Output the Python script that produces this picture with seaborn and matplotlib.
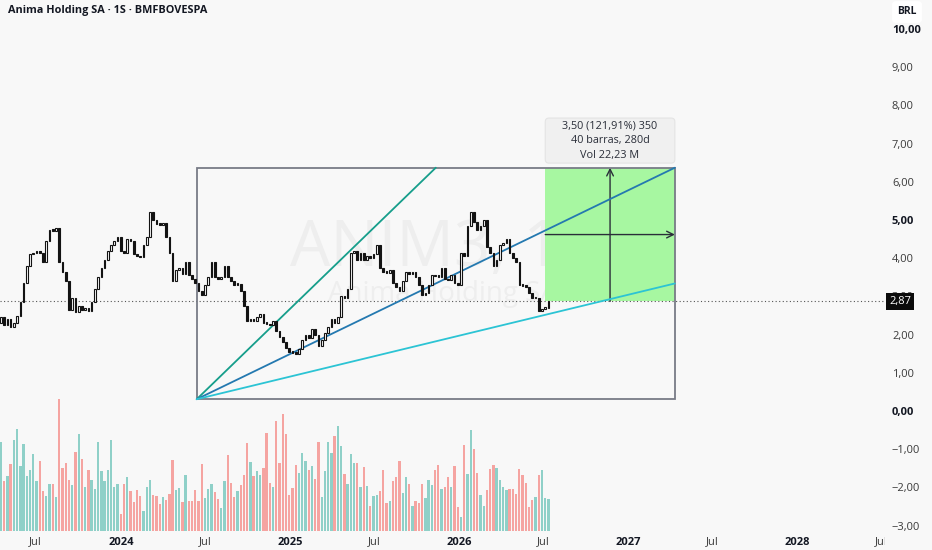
import numpy as np
import pandas as pd
import matplotlib
matplotlib.use('Agg')
import matplotlib.pyplot as plt
import matplotlib.dates as mdates
from matplotlib.patches import Rectangle, FancyBboxPatch
from matplotlib.transforms import Bbox, TransformedBbox, blended_transform_factory
import seaborn as sns

# Datos semanales (1S) de ANIM3
primera_semana = '2023-04-17'
apertura_inicial = 2.30

cierres = [
    2.45, 2.25, 2.40, 2.20, 2.30, 2.50, 2.85, 3.35, 3.80, 4.10,
    4.15, 4.20, 4.15, 3.90, 4.45, 4.75, 4.72, 4.78, 3.90, 3.65,
    3.40, 2.65, 2.95, 2.60, 2.75, 2.65, 2.70, 2.62, 2.85, 3.20,
    3.50, 3.75, 3.95, 4.20, 4.35, 4.45, 4.55, 4.20, 4.15, 4.50,
    4.45, 4.10, 4.05, 4.02, 4.35, 4.55, 5.20, 5.00, 4.90, 4.88,
    4.92, 4.55, 4.15, 3.40, 3.70, 3.75, 3.60, 3.90, 3.55, 3.45,
    3.35, 3.15, 3.05, 3.30, 3.50, 3.90, 3.50, 3.45, 3.50, 3.80,
    3.50, 3.40, 3.30, 3.32, 3.15, 2.75, 2.35, 2.40, 2.35, 2.45,
    2.55, 2.30, 2.28, 2.25, 2.35, 2.10, 1.95, 1.80, 1.65, 1.55,
    1.52, 1.50, 1.62, 1.85, 2.00, 1.90, 2.15, 2.00, 1.70, 1.85,
    2.05, 2.20, 2.40, 2.30, 2.45, 3.00, 2.95, 3.20, 4.15, 4.20,
    3.95, 4.15, 3.95, 4.05, 4.00, 4.10, 4.35, 3.75, 3.65, 3.62,
    3.70, 3.35, 3.25, 3.15, 3.40, 3.65, 3.60, 3.65, 3.50, 3.30,
    3.05, 3.10, 3.30, 3.55, 3.53, 3.52, 3.75, 3.45, 3.42, 3.55,
    3.35, 3.30, 4.15, 4.05, 4.85, 5.20, 4.95, 4.75, 4.85, 5.00,
    4.30, 4.15, 3.80, 3.95, 4.35, 4.40, 4.50, 4.15, 4.00, 3.90,
    3.30, 3.28, 3.25, 3.10, 2.95, 2.97, 2.62, 2.68, 2.70, 2.87,
]

# volumen semanal (millones)
volumenes = [
    30.3, 17.1, 18.6, 22.6, 30.8, 34.5, 22.0, 29.5, 18.6, 20.6,
    26.1, 17.1, 23.8, 13.7, 12.0, 15.8, 16.0, 11.4, 44.7, 21.5,
    23.1, 17.3, 15.5, 26.8, 32.9, 24.4, 14.9, 20.7, 17.4, 14.4,
    30.2, 20.3, 17.1, 20.7, 30.8, 14.8, 16.0, 5.8, 16.0, 18.4,
    13.6, 9.8, 13.9, 11.9, 6.8, 14.9, 17.3, 12.3, 11.9, 9.3,
    11.6, 10.5, 12.4, 24.0, 14.0, 14.5, 9.8, 19.0, 10.2, 10.2,
    14.0, 10.1, 22.8, 11.3, 14.2, 16.0, 13.1, 10.8, 7.8, 17.1,
    25.7, 16.3, 11.6, 13.7, 15.7, 19.1, 29.9, 23.5, 18.6, 20.3,
    18.9, 21.4, 33.3, 16.3, 15.0, 37.4, 23.1, 39.6, 33.0, 12.3,
    14.5, 22.3, 19.8, 26.6, 23.8, 20.7, 21.9, 17.6, 30.3, 11.4,
    20.2, 30.2, 26.6, 32.3, 35.7, 28.9, 19.4, 15.8, 26.1, 23.2,
    23.2, 15.0, 21.7, 15.1, 8.5, 11.9, 12.2, 13.7, 20.6, 9.6,
    10.2, 16.8, 18.3, 23.8, 12.8, 18.3, 15.9, 8.6, 10.3, 9.6,
    15.8, 11.3, 17.2, 15.6, 20.6, 22.5, 14.1, 14.8, 18.3, 14.9,
    22.0, 8.0, 4.7, 29.2, 19.3, 34.4, 27.7, 19.8, 12.1, 8.5,
    14.0, 21.0, 22.4, 21.5, 17.4, 14.9, 14.0, 14.1, 14.2, 12.7,
    21.0, 19.0, 16.4, 8.2, 10.6, 11.6, 18.9, 20.8, 11.2, 10.7,
]

ultimo_precio = 2.87

# caja de Gann
caja_inicio = '2024-06-13'
caja_fin = '2027-04-12'
caja_min = 0.31
caja_max = 6.37

# herramienta de medicion
medida_inicio = '2026-07-06'
medida_min = 2.87
medida_max = 6.37
medida_texto = ['3,50 (121,91%) 350', '40 barras, 280d', 'Vol 22,23 M']

titulo = 'Anima Holding SA · 1S · BMFBOVESPA'
marca_agua = 'ANIM3, 1S'
marca_agua_2 = 'Anima Holding SA'
niveles_precio = list(range(-3, 11))
niveles_negrita = [0, 5, 10]

# ---------------------------------------------------------------
fondo = '#f8f8f8'
sns.set_theme(style='white')
plt.rcParams['font.family'] = ['Open Sans', 'DejaVu Sans']

fechas = pd.date_range(primera_semana, periods=len(cierres), freq='7D')
aperturas = [apertura_inicial] + cierres[:-1]
df = pd.DataFrame({'fecha': fechas, 'apertura': aperturas,
                   'cierre': cierres, 'volumen': volumenes})
df['sube'] = df['cierre'] >= df['apertura']
df['base'] = df[['apertura', 'cierre']].min(axis=1)
df['cuerpo'] = (df['cierre'] - df['apertura']).abs().clip(lower=0.04)

fig = plt.figure(figsize=(9.32, 5.5), dpi=100)
fig.patch.set_facecolor(fondo)
ax = fig.add_axes([0, 19 / 550, 885 / 932, 531 / 550])
ax2 = ax.twinx()
ax.set_zorder(2)
ax2.set_zorder(1)
ax.patch.set_visible(False)
ax2.patch.set_visible(False)

# volumen
colores_vol = np.where(df['sube'], '#8fd0c8', '#f5a4a1')
ax2.bar(df['fecha'], df['volumen'], width=5, color=colores_vol, linewidth=0)
ax2.set_ylim(0, 180)
ax2.set_yticks([])

# marca de agua
ax.text(0.5, 0.531, marca_agua, transform=ax.transAxes, ha='center', va='center',
        fontsize=46, color='#eeeeee', zorder=0)
ax.text(0.5, 0.446, marca_agua_2, transform=ax.transAxes, ha='center', va='center',
        fontsize=20, color='#eeeeee', zorder=0)

# medicion (caja verde)
m0 = mdates.date2num(pd.Timestamp(medida_inicio))
c0 = mdates.date2num(pd.Timestamp(caja_inicio))
c1 = mdates.date2num(pd.Timestamp(caja_fin))
ax.add_patch(Rectangle((m0, medida_min), c1 - m0, medida_max - medida_min,
                       facecolor='#a7f7a1', edgecolor='none', zorder=1))
m_mid = (m0 + c1) / 2
p_mid = (medida_min + medida_max) / 2
ax.annotate('', xy=(m_mid, medida_max), xytext=(m_mid, medida_min),
            arrowprops=dict(arrowstyle='->', color='#2a2e39', lw=1, shrinkA=0, shrinkB=0), zorder=3)
ax.annotate('', xy=(c1, p_mid), xytext=(m0, p_mid),
            arrowprops=dict(arrowstyle='->', color='#2a2e39', lw=1, shrinkA=0, shrinkB=0), zorder=3)
ax.add_patch(FancyBboxPatch((m0, 6.49), c1 - m0, 1.18,
                            boxstyle='round,pad=0,rounding_size=8', mutation_aspect=0.0121,
                            facecolor='#f0f0f0', edgecolor='#e4e4e4', linewidth=0.8, zorder=6))
ax.text(m_mid, 7.08, '\n'.join(medida_texto), ha='center', va='center', fontsize=7.8,
        color='#2a2e39', linespacing=1.5, zorder=7)

# caja de Gann
ax.add_patch(Rectangle((c0, caja_min), c1 - c0, caja_max - caja_min,
                       facecolor='none', edgecolor='#787b86', linewidth=1.3, zorder=4))
abanico = pd.DataFrame({
    'fecha': pd.to_datetime(mdates.num2date([c0, (c0 + c1) / 2, c0, c1, c0, c1])).tz_localize(None),
    'precio': [caja_min, caja_max, caja_min, caja_max, caja_min, (caja_min + caja_max) / 2],
    'linea': ['2x1', '2x1', '1x1', '1x1', '1x2', '1x2'],
})
sns.lineplot(data=abanico, x='fecha', y='precio', hue='linea', estimator=None, sort=False,
             palette={'2x1': '#169e8b', '1x1': '#2479b0', '1x2': '#2cc4d4'},
             linewidth=1.3, legend=False, ax=ax, zorder=5)
ax.set_xlabel('')
ax.set_ylabel('')

# velas
sub = df[df['sube']]
baj = df[~df['sube']]
ax.bar(sub['fecha'], sub['cuerpo'], bottom=sub['base'], width=3.6,
       facecolor='white', edgecolor='#131313', linewidth=0.8, zorder=7)
ax.bar(baj['fecha'], baj['cuerpo'], bottom=baj['base'], width=3.6,
       facecolor='#131313', edgecolor='#131313', linewidth=0.8, zorder=7)

# linea de precio actual
ax.axhline(ultimo_precio, color='#555555', linewidth=0.8, linestyle=(0, (1, 2.2)), zorder=2)

# ejes
d0 = mdates.date2num(fechas[0])
ax.set_xlim(d0 - 2, d0 + 1910)
ax.set_ylim(-3.14, 10.76)
for s in ax.spines.values():
    s.set_visible(False)
for s in ax2.spines.values():
    s.set_visible(False)

ax.yaxis.tick_right()
ax.set_yticks(niveles_precio)
ax.set_yticklabels([f'{v:.2f}'.replace('.', ',').replace('-', '\u2212') for v in niveles_precio])
ax.tick_params(axis='y', length=0, pad=5, labelsize=8, labelcolor='#3a3a3a')
for v, lab in zip(niveles_precio, ax.get_yticklabels()):
    if v in niveles_negrita:
        lab.set_fontweight('bold')
        lab.set_color('#131722')

marcas = pd.date_range('2023-07-01', '2028-07-01', freq='6MS')
ax.set_xticks(mdates.date2num(marcas))
ax.set_xticklabels(['Jul' if m.month == 7 else str(m.year) for m in marcas])
ax.tick_params(axis='x', length=0, pad=4, labelsize=8, labelcolor='#3a3a3a')
clip = TransformedBbox(Bbox([[0, 0], [885 / 932, 1]]), fig.transFigure)
for m, lab in zip(marcas, ax.get_xticklabels()):
    if m.month == 1:
        lab.set_fontweight('bold')
        lab.set_color('#131722')
    lab.set_clip_box(clip)
    lab.set_clip_on(True)
ax.grid(False)
ax2.grid(False)

# etiqueta del ultimo precio
tr = blended_transform_factory(ax.transAxes, ax.transData)
ax.text(1.0 + 4 / 885, ultimo_precio, f'{ultimo_precio:.2f}'.replace('.', ','), transform=tr,
        ha='left', va='center', fontsize=8, color='white', clip_on=False, zorder=10,
        bbox=dict(boxstyle='square,pad=0.28', facecolor='#0b0b0b', edgecolor='none'))

# titulo y moneda
fig.text(8 / 932, 1 - 11 / 550, titulo, ha='left', va='center', fontsize=7.8,
         fontweight='bold', color='#131722')
fig.text(907 / 932, 1 - 12 / 550, 'BRL', ha='center', va='center', fontsize=7.5,
         fontweight='bold', color='#131722',
         bbox=dict(boxstyle='round,pad=0.5,rounding_size=0.3', facecolor='white',
                   edgecolor='none'), linespacing=1.0)
fig.text(907 / 932, 1 - 12 / 550, '      ', ha='center', va='center', fontsize=7.5, zorder=-1,
         bbox=dict(boxstyle='round,pad=0.5,rounding_size=0.3', facecolor='white', edgecolor='none'))

fig.savefig('out.png', dpi=100, facecolor=fondo)
